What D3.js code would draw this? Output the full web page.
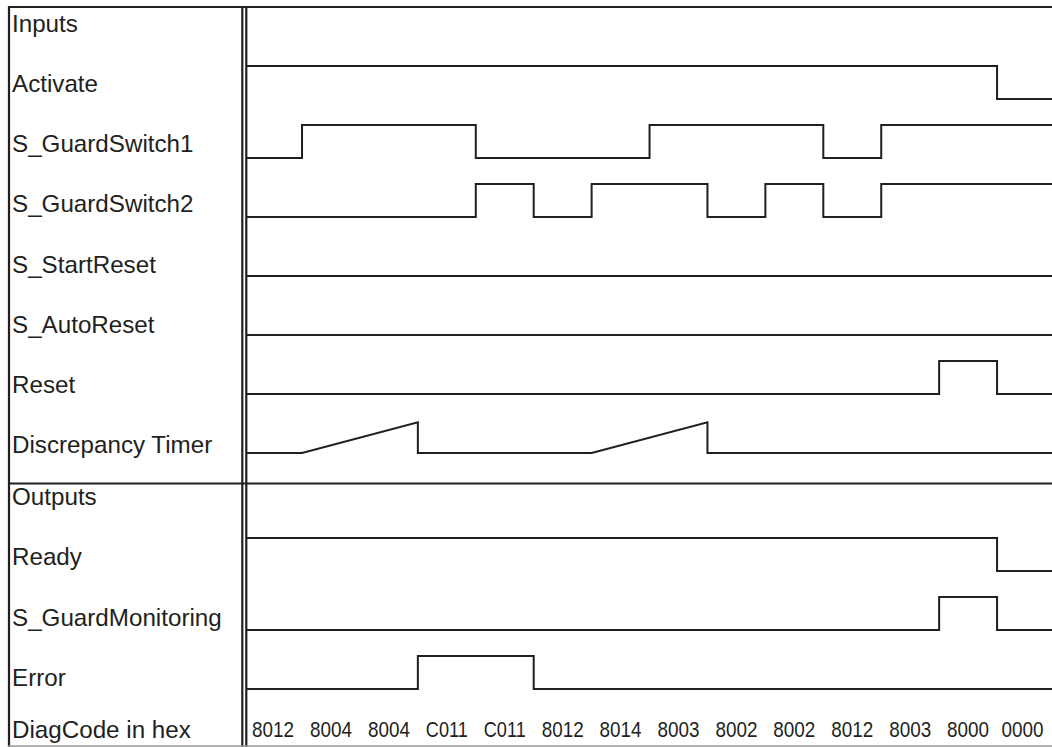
<!DOCTYPE html>
<html>
<head>
<meta charset="utf-8">
<script src="https://cdn.jsdelivr.net/npm/d3@7"></script>
<style>
  html, body { margin: 0; padding: 0; background: #ffffff; }
  svg { display: block; }
  text { font-family: "Liberation Sans", Arial, Helvetica, sans-serif; fill: #231f20; }
</style>
</head>
<body>
<svg id="chart" width="1052" height="747"></svg>
<script>
// ---- Data ----
const rowLabels = ["Inputs", "Activate", "S_GuardSwitch1", "S_GuardSwitch2", "S_StartReset",
  "S_AutoReset", "Reset", "Discrepancy Timer", "Outputs", "Ready", "S_GuardMonitoring",
  "Error", "DiagCode in hex"];

// level of each digital signal in each of the 14 time intervals
const activate       = [1,1,1,1,1,1,1,1,1,1,1,1,1,0];
const sGuardSwitch1  = [0,1,1,1,0,0,0,1,1,1,0,1,1,1];
const sGuardSwitch2  = [0,0,0,0,1,0,1,1,0,1,0,1,1,1];
const sStartReset    = [0,0,0,0,0,0,0,0,0,0,0,0,0,0];
const sAutoReset     = [0,0,0,0,0,0,0,0,0,0,0,0,0,0];
const reset          = [0,0,0,0,0,0,0,0,0,0,0,0,1,0];
const ready          = [1,1,1,1,1,1,1,1,1,1,1,1,1,0];
const sGuardMonitor  = [0,0,0,0,0,0,0,0,0,0,0,0,1,0];
const error          = [0,0,0,1,1,0,0,0,0,0,0,0,0,0];

// discrepancy timer: [time, value] points (ramps)
const discrepancyTimer = [[0,0],[1,0],[3,0.93],[3,0],[6,0],[8,0.93],[8,0],[14,0]];

// diag codes per interval (tick labels)
const diagCodes = ["8012","8004","8004","C011","C011","8012","8014","8003","8002","8002","8012","8003","8000","0000"];

// ---- Layout ----
const W = 1052, H = 747;
const ink = "#231f20";
const svg = d3.select("#chart");

const x = d3.scaleLinear().domain([0, 14]).range([244.1, 244.1 + 14 * 57.92]);
const yLow = d3.scaleLinear().domain([0, 12]).range([40, 748]);       // signal low level per row
const yLabel = d3.scaleLinear().domain([0, 7, 8, 11, 12]).range([32, 453, 505, 686, 738]);
const amp = 33;

const digital = [
  {row: 1, values: activate},
  {row: 2, values: sGuardSwitch1},
  {row: 3, values: sGuardSwitch2},
  {row: 4, values: sStartReset},
  {row: 5, values: sAutoReset},
  {row: 6, values: reset},
  {row: 9, values: ready},
  {row: 10, values: sGuardMonitor},
  {row: 11, values: error}
];

svg.append("defs").append("clipPath").attr("id", "plotclip")
  .append("rect").attr("x", 246).attr("y", 0).attr("width", W - 246).attr("height", H);

const plot = svg.append("g").attr("clip-path", "url(#plotclip)");

digital.forEach(s => {
  const pts = s.values.map((v, i) => [i, v]);
  pts.push([14, s.values[s.values.length - 1]]);
  const line = d3.line()
    .x(d => x(d[0]))
    .y(d => yLow(s.row) - d[1] * amp)
    .curve(d3.curveStepAfter);
  plot.append("path").attr("d", line(pts))
    .attr("fill", "none").attr("stroke", ink).attr("stroke-width", 2)
    .attr("stroke-linejoin", "miter");
});

const dtLine = d3.line().x(d => x(d[0])).y(d => yLow(7) - d[1] * amp);
plot.append("path").attr("d", dtLine(discrepancyTimer))
  .attr("fill", "none").attr("stroke", ink).attr("stroke-width", 2);

// diag codes, centred in the visible part of each interval
svg.selectAll("text.code").data(diagCodes).enter().append("text")
  .attr("class", "code")
  .attr("x", (d, i) => (x(i) + Math.min(x(i + 1), W - 4)) / 2 - 21)
  .attr("y", yLabel(12) - 1)
  .attr("font-size", 22)
  .attr("textLength", 42)
  .attr("lengthAdjust", "spacingAndGlyphs")
  .text(d => d);

// row labels
svg.selectAll("text.lbl").data(rowLabels).enter().append("text")
  .attr("class", "lbl")
  .attr("x", 12)
  .attr("y", (d, i) => yLabel(i))
  .attr("font-size", 24.2)
  .text(d => d);

// frame
const frame = svg.append("g").attr("stroke", ink).attr("fill", "none");
frame.append("line").attr("x1", 8).attr("x2", W).attr("y1", 7).attr("y2", 7).attr("stroke-width", 2.2);
frame.append("line").attr("x1", 9).attr("x2", 9).attr("y1", 6).attr("y2", H).attr("stroke-width", 2.2);
frame.append("line").attr("x1", 242.3).attr("x2", 242.3).attr("y1", 6).attr("y2", H).attr("stroke-width", 2.2);
frame.append("line").attr("x1", 246.3).attr("x2", 246.3).attr("y1", 6).attr("y2", H).attr("stroke-width", 2.2);
frame.append("line").attr("x1", 8).attr("x2", W).attr("y1", 483.5).attr("y2", 483.5).attr("stroke-width", 2.2);
svg.append("line").attr("x1", 8).attr("x2", W).attr("y1", 746).attr("y2", 746)
  .attr("stroke", "#9a9a9a").attr("stroke-width", 1.5);
</script>
</body>
</html>
